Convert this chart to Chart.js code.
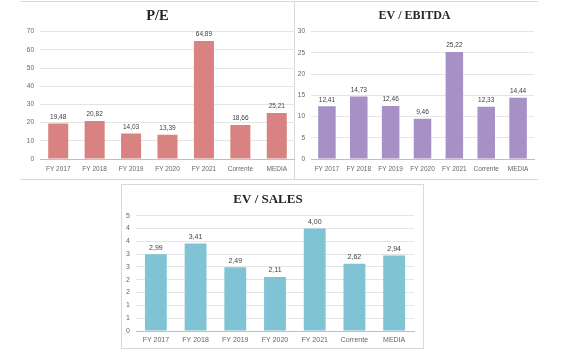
<!DOCTYPE html>
<html>
<head>
<meta charset="utf-8">
<script src="https://cdn.jsdelivr.net/npm/chart.js@4.4.1/dist/chart.umd.min.js"></script>
<style>
  body { margin: 0; width: 561px; height: 360px; background: #fff; position: relative; overflow: hidden; }
  canvas, .frame { position: absolute; }
  .frame { box-sizing: border-box; border: 1px solid #d9d9d9; }
</style>
</head>
<body>
<div class="frame" style="left:20px;top:1px;width:275px;height:179px;border-left:none;"></div>
<div class="frame" style="left:294px;top:1px;width:244px;height:179px;border-right:none;"></div>
<div class="frame" style="left:121px;top:184px;width:303px;height:165px;"></div>
<canvas id="peChart" width="275" height="178" style="left:20px;top:1px;"></canvas>
<canvas id="ebitdaChart" width="242" height="178" style="left:295px;top:1px;"></canvas>
<canvas id="salesChart" width="300" height="162" style="left:122px;top:185px;"></canvas>
<script>
const categories = ['FY 2017', 'FY 2018', 'FY 2019', 'FY 2020', 'FY 2021', 'Corrente', 'MEDIA'];
const peValues = [19.48, 20.82, 14.03, 13.39, 64.89, 18.66, 25.21];
const evEbitdaValues = [12.41, 14.73, 12.46, 9.46, 25.22, 12.33, 14.44];
const evSalesValues = [2.99, 3.41, 2.49, 2.11, 4.00, 2.62, 2.94];

Chart.defaults.font.family = "'Liberation Sans', Arial, sans-serif";
Chart.defaults.color = '#666666';

// value above each bar, with a decimal comma
const valueLabels = {
    id: 'valueLabels',
    afterDatasetsDraw(chart) {
        const ctx = chart.ctx;
        const size = chart.options.scales.x.ticks.font.size;
        ctx.save();
        ctx.font = size + "px 'Liberation Sans', Arial, sans-serif";
        ctx.fillStyle = '#404040';
        ctx.textAlign = 'center';
        ctx.textBaseline = 'middle';
        chart.getDatasetMeta(0).data.forEach((bar, i) => {
            const value = chart.data.datasets[0].data[i];
            ctx.fillText(value.toFixed(2).replace('.', ','), bar.x, bar.y - 6.5);
        });
        ctx.restore();
    }
};

function buildChart(id, title, values, color, axis) {
    return new Chart(document.getElementById(id), {
        type: 'bar',
        data: {
            labels: categories,
            datasets: [{
                data: values,
                backgroundColor: color,
                barPercentage: 0.55,
                categoryPercentage: 1
            }]
        },
        options: {
            responsive: false,
            animation: false,
            layout: { padding: { left: 0, right: axis.right, top: 0, bottom: 0 } },
            plugins: {
                legend: { display: false },
                tooltip: { enabled: false },
                title: {
                    display: true,
                    text: title,
                    color: '#262626',
                    font: { family: "'Liberation Serif', serif", size: axis.titleSize, weight: 'bold', lineHeight: 15.6 / axis.titleSize },
                    padding: { top: 7, bottom: 8 }
                }
            },
            scales: {
                x: {
                    grid: { display: false, drawTicks: false },
                    border: { color: '#bfbfbf' },
                    ticks: { font: { size: axis.font }, padding: axis.xPad, maxRotation: 0, autoSkip: false },
                    afterFit: s => { s.height = axis.xHeight; }
                },
                y: {
                    min: 0,
                    max: axis.max,
                    ticks: { stepSize: axis.step, font: { size: axis.font }, padding: 6, callback: axis.fmt },
                    grid: { color: '#e4e4e4', drawTicks: false },
                    border: { display: false },
                    afterFit: s => { s.width = axis.yWidth; }
                }
            }
        },
        plugins: [valueLabels]
    });
}

buildChart('peChart', 'P/E', peValues, '#d98282', {
    max: 70, step: 10, font: 6.5, xPad: 6, xHeight: 20, yWidth: 20, right: 0, titleSize: 14.5,
    fmt: v => v
});
buildChart('ebitdaChart', 'EV / EBITDA', evEbitdaValues, '#a690c6', {
    max: 30, step: 5, font: 6.5, xPad: 6, xHeight: 20, yWidth: 16, right: 3, titleSize: 12,
    fmt: v => v
});
// axis steps are 0.5 but labels are rounded to whole numbers
buildChart('salesChart', 'EV / SALES', evSalesValues, '#7fc3d4', {
    max: 4.5, step: 0.5, font: 7, xPad: 5, xHeight: 16, yWidth: 14, right: 8, titleSize: 13,
    fmt: v => Math.round(v)
});
</script>
</body>
</html>
